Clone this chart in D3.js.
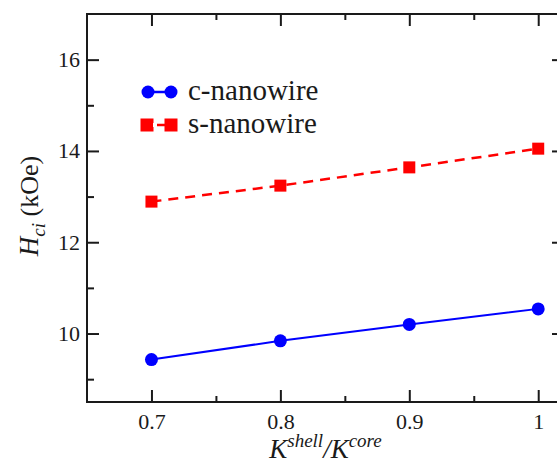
<!DOCTYPE html>
<html>
<head>
<meta charset="utf-8">
<script src="https://cdn.jsdelivr.net/npm/d3@7"></script>
<style>
  html, body { margin: 0; padding: 0; background: #fff; }
  svg { display: block; }
  svg text, svg tspan { font-family: "Liberation Serif", "Times New Roman", Tinos, Times !important; }
</style>
</head>
<body>
<svg id="chart" width="557" height="464" font-family="Liberation Serif"></svg>
<script>
// ---- data ----
const ratios = [0.7, 0.8, 0.9, 1.0];
const cNanowire = [9.43, 9.84, 10.20, 10.54];
const sNanowire = [12.89, 13.24, 13.64, 14.05];
const seriesNames = ["c-nanowire", "s-nanowire"];
const xMajorTicks = [0.7, 0.8, 0.9, 1.0];
const xMinorTicks = [0.75, 0.85, 0.95];
const yMajorTicks = [10, 12, 14, 16];
const yMinorTicks = [9, 11, 13, 15];
const xTickLabels = ["0.7", "0.8", "0.9", "1"];

// ---- layout ----
const FONT = "Liberation Serif";
const pLeft = 87, pRight = 564, pTop = 14, pBottom = 402;
const svg = d3.select("#chart");
const x = d3.scaleLinear().domain([0.65, 1.02]).range([pLeft, pRight]);
const y = d3.scaleLinear().domain([8.5, 17]).range([pBottom, pTop]);

const axisColor = "#1a1a1a";
function styleAxis(g) {
  g.attr("font-family", FONT).attr("font-size", 22);
  g.select(".domain").remove();
  g.selectAll(".tick line").attr("stroke", axisColor).attr("stroke-width", 2);
  g.selectAll(".tick text").attr("font-family", FONT).attr("font-size", 22).attr("fill", "#1a1a1a");
}

// frame
svg.append("rect").attr("x", pLeft).attr("y", pTop)
  .attr("width", pRight - pLeft).attr("height", pBottom - pTop)
  .attr("fill", "none").attr("stroke", axisColor).attr("stroke-width", 2);

// bottom axis
svg.append("g").attr("transform", `translate(0,${pBottom})`)
  .call(d3.axisBottom(x).tickValues(xMajorTicks).tickSize(-12).tickPadding(6)
    .tickFormat((d, i) => xTickLabels[i]))
  .call(styleAxis)
  .selectAll(".tick text").attr("dy", "0.95em");
svg.append("g").attr("transform", `translate(0,${pBottom})`)
  .call(d3.axisBottom(x).tickValues(xMinorTicks).tickSize(-6).tickFormat(""))
  .call(styleAxis);
// top axis
svg.append("g").attr("transform", `translate(0,${pTop})`)
  .call(d3.axisTop(x).tickValues(xMajorTicks).tickSize(-12).tickFormat(""))
  .call(styleAxis);
svg.append("g").attr("transform", `translate(0,${pTop})`)
  .call(d3.axisTop(x).tickValues(xMinorTicks).tickSize(-6).tickFormat(""))
  .call(styleAxis);
// left axis
svg.append("g").attr("transform", `translate(${pLeft},0)`)
  .call(d3.axisLeft(y).tickValues(yMajorTicks).tickSize(-12).tickPadding(7)
    .tickFormat(d3.format("d")))
  .call(styleAxis);
svg.append("g").attr("transform", `translate(${pLeft},0)`)
  .call(d3.axisLeft(y).tickValues(yMinorTicks).tickSize(-7).tickFormat(""))
  .call(styleAxis);
// right axis
svg.append("g").attr("transform", `translate(${pRight},0)`)
  .call(d3.axisRight(y).tickValues(yMajorTicks).tickSize(-12).tickFormat(""))
  .call(styleAxis);
svg.append("g").attr("transform", `translate(${pRight},0)`)
  .call(d3.axisRight(y).tickValues(yMinorTicks).tickSize(-7).tickFormat(""))
  .call(styleAxis);

// ---- series ----
const line = d3.line().x(d => x(d[0])).y(d => y(d[1]));
const cData = ratios.map((r, i) => [r, cNanowire[i]]);
const sData = ratios.map((r, i) => [r, sNanowire[i]]);

svg.append("path").datum(sData).attr("d", line)
  .attr("fill", "none").attr("stroke", "#ff0000").attr("stroke-width", 2.5)
  .attr("stroke-dasharray", "10,7");
svg.append("g").selectAll("rect").data(sData).join("rect")
  .attr("x", d => x(d[0]) - 6).attr("y", d => y(d[1]) - 6)
  .attr("width", 12).attr("height", 12).attr("fill", "#ff0000");

svg.append("path").datum(cData).attr("d", line)
  .attr("fill", "none").attr("stroke", "#0000ff").attr("stroke-width", 2);
svg.append("g").selectAll("circle").data(cData).join("circle")
  .attr("cx", d => x(d[0])).attr("cy", d => y(d[1])).attr("r", 6.5)
  .attr("fill", "#0000ff");

// ---- legend ----
const lg = svg.append("g");
lg.append("line").attr("x1", 148).attr("x2", 171).attr("y1", 92).attr("y2", 92)
  .attr("stroke", "#0000ff").attr("stroke-width", 2.5);
[148, 171].forEach(cx => lg.append("circle").attr("cx", cx).attr("cy", 92).attr("r", 6.5).attr("fill", "#0000ff"));
lg.append("text").attr("x", 188).attr("y", 100).attr("font-family", FONT)
  .attr("font-size", 29).attr("fill", "#1a1a1a").text(seriesNames[0]);

lg.append("line").attr("x1", 147).attr("x2", 171).attr("y1", 125).attr("y2", 125)
  .attr("stroke", "#ff0000").attr("stroke-width", 2.5);
[147, 171].forEach(cx => lg.append("rect").attr("x", cx - 6.5).attr("y", 125 - 6.5)
  .attr("width", 13).attr("height", 13).attr("fill", "#ff0000"));
lg.append("rect").attr("x", 153).attr("y", 123).attr("width", 4).attr("height", 4).attr("fill", "#fff");
lg.append("text").attr("x", 188).attr("y", 133).attr("font-family", FONT)
  .attr("font-size", 29).attr("fill", "#1a1a1a").text(seriesNames[1]);

// ---- axis titles ----
const xt = svg.append("text").attr("x", (pLeft + pRight) / 2).attr("y", 458)
  .attr("text-anchor", "middle").attr("font-style", "italic")
  .attr("font-family", FONT).attr("fill", "#1a1a1a");
xt.append("tspan").attr("font-size", 27).text("K");
xt.append("tspan").attr("font-size", 19).attr("dy", -11).text("shell");
xt.append("tspan").attr("font-size", 27).attr("dy", 11).text("/K");
xt.append("tspan").attr("font-size", 19).attr("dy", -11).text("core");

const yt = svg.append("text")
  .attr("transform", `translate(38,206) rotate(-90)`)
  .attr("text-anchor", "middle").attr("font-family", FONT).attr("fill", "#1a1a1a");
yt.append("tspan").attr("font-size", 27).attr("font-style", "italic").text("H");
yt.append("tspan").attr("font-size", 19).attr("font-style", "italic").attr("dy", 7).text("ci");
yt.append("tspan").attr("font-size", 26).attr("dy", -7).text(" (kOe)");
</script>
</body>
</html>
